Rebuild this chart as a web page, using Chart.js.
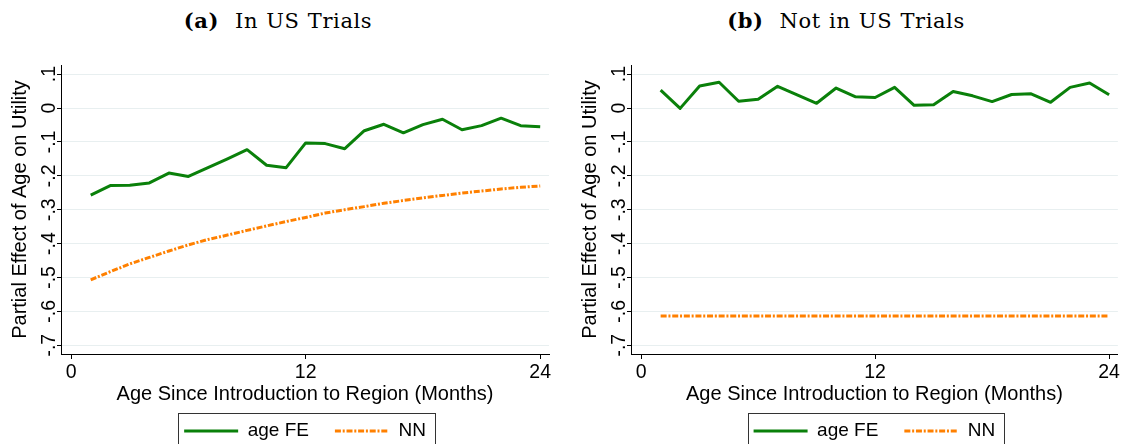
<!DOCTYPE html>
<html><head><meta charset="utf-8">
<script src="https://cdn.jsdelivr.net/npm/chart.js@4/dist/chart.umd.min.js"></script>
<style>
html,body{margin:0;padding:0;background:#fff;overflow:hidden;width:1122px;height:444px;}
.panel{position:absolute;top:0;}
.title{position:absolute;top:9px;width:400px;text-align:center;font-family:"DejaVu Serif",serif;font-size:21px;line-height:24px;white-space:nowrap;color:#000;letter-spacing:0.6px;word-spacing:1px;}
.title b{margin-right:16px;}
</style></head>
<body>
<div class="title" style="left:78px"><b>(a)</b>In US Trials</div>
<div class="title" style="left:646px"><b>(b)</b>Not in US Trials</div>
<div class="panel" style="left:0px"><canvas id="c1" width="556" height="444"></canvas></div>
<div class="panel" style="left:570px"><canvas id="c2" width="552" height="444"></canvas></div>
<script>
const months = [1,2,3,4,5,6,7,8,9,10,11,12,13,14,15,16,17,18,19,20,21,22,23,24];
const seriesNames = ['age FE', 'NN'];
const xTickValues = [0, 12, 24];
const yTickValues = [0.1, 0, -0.1, -0.2, -0.3, -0.4, -0.5, -0.6, -0.7];
const ageFE_US = [-0.257,-0.229,-0.228,-0.221,-0.192,-0.202,-0.176,-0.150,-0.123,-0.169,-0.176,-0.103,-0.105,-0.120,-0.067,-0.048,-0.073,-0.049,-0.033,-0.064,-0.052,-0.030,-0.052,-0.055];
const nn_US = [-0.507,-0.483,-0.460,-0.441,-0.422,-0.404,-0.388,-0.375,-0.361,-0.348,-0.335,-0.323,-0.310,-0.300,-0.291,-0.281,-0.273,-0.265,-0.258,-0.251,-0.245,-0.239,-0.234,-0.230];
const ageFE_nonUS = [0.053,-0.001,0.065,0.076,0.020,0.026,0.064,0.039,0.014,0.059,0.033,0.031,0.061,0.008,0.010,0.049,0.036,0.019,0.040,0.042,0.017,0.061,0.074,0.039];
const nn_nonUS = [-0.614,-0.614,-0.614,-0.614,-0.614,-0.614,-0.614,-0.614,-0.614,-0.614,-0.614,-0.614,-0.614,-0.614,-0.614,-0.614,-0.614,-0.614,-0.614,-0.614,-0.614,-0.614,-0.614,-0.614];
const yTitle = 'Partial Effect of Age on Utility';
const xTitle = 'Age Since Introduction to Region (Months)';

Chart.defaults.font.family = "'Liberation Sans', Arial, sans-serif";
Chart.defaults.color = '#000';

const GREEN = '#0a800a';
const ORANGE = '#ff8000';

function pts(vals){ return months.map((m,i)=>({x:m, y:vals[i]})); }

const legendBoxPlugin = {
  id: 'legendBox',
  afterDraw(chart){
    const lg = chart.legend;
    if (!lg || !lg.legendHitBoxes || !lg.legendHitBoxes.length) return;
    const hb = lg.legendHitBoxes;
    const l = Math.round(hb[0].left - 6);
    const last = hb[hb.length-1];
    const r = Math.round(last.left + last.width + 9);
    const ctx = chart.ctx;
    ctx.save();
    ctx.strokeStyle = '#333';
    ctx.lineWidth = 1;
    ctx.strokeRect(l + 0.5, 413.5, r - l, 50);
    ctx.restore();
  }
};

function fmtY(v){
  if (Math.abs(v) < 1e-9) return '0';
  return (Math.round(v*10)/10).toFixed(1).replace('0.', '.');
}

function makeChart(id, feVals, nnVals, rightPad){
  return new Chart(document.getElementById(id), {
    type: 'line',
    data: {
      datasets: [
        {label: seriesNames[0], data: pts(feVals), borderColor: GREEN, backgroundColor: GREEN, borderWidth: 3, pointRadius: 0, tension: 0, fill: false, borderJoinStyle: 'round'},
        {label: seriesNames[1], data: pts(nnVals), borderColor: ORANGE, backgroundColor: ORANGE, borderWidth: 3, borderDash: [6,1.8,2,1.8], pointRadius: 0, tension: 0, fill: false}
      ]
    },
    options: {
      responsive: false,
      animation: false,
      devicePixelRatio: 1,
      events: [],
      layout: {padding: {top: 65, left: 0, right: rightPad, bottom: -6.5}},
      plugins: {
        title: {display: false},
        tooltip: {enabled: false},
        legend: {
          display: true,
          position: 'bottom',
          fullSize: false,
          labels: {
            usePointStyle: true,
            pointStyle: 'line',
            pointStyleWidth: 54,
            padding: 26,
            color: '#000',
            font: {size: 19},
            generateLabels: (chart) => chart.data.datasets.map((ds, i) => ({
              text: ds.label, fillStyle: ds.borderColor, strokeStyle: ds.borderColor,
              lineWidth: ds.borderWidth, lineDash: ds.borderDash || [], lineCap: 'butt',
              pointStyle: 'line', hidden: false, datasetIndex: i, fontColor: '#000'
            }))
          }
        }
      },
      scales: {
        x: {
          type: 'linear',
          min: -0.52, max: 24.45,
          afterFit: (s) => { s.height = 41.5; },
          afterBuildTicks: (s) => { s.ticks = xTickValues.map(v => ({value: v})); },
          ticks: {stepSize: 12, includeBounds: false, maxRotation: 0, autoSkip: false, padding: 2, font: {size: 19.5}, color: '#000', callback: (v) => String(v)},
          grid: {drawOnChartArea: false, tickLength: 5, tickColor: '#000', tickWidth: 1},
          border: {color: '#000', width: 1},
          title: {display: true, text: xTitle, color: '#000', font: {size: 20}, padding: {top: 0, bottom: -11}}
        },
        y: {
          type: 'linear',
          min: -0.726, max: 0.127,
          afterFit: (s) => { s.width = 61; },
          afterBuildTicks: (s) => { s.ticks = yTickValues.map(v => ({value: v})); },
          ticks: {stepSize: 0.1, includeBounds: false, minRotation: 90, maxRotation: 90, crossAlign: 'center', padding: -4, font: {size: 19.5}, color: '#000', callback: (v) => fmtY(v)},
          grid: {color: '#e8eff0', lineWidth: 1, tickLength: 4, tickColor: '#000', tickWidth: 1},
          border: {color: '#000', width: 1},
          title: {display: true, text: yTitle, color: '#000', font: {size: 20}, padding: {top: 8, bottom: 0}}
        }
      }
    },
    plugins: [legendBoxPlugin]
  });
}

makeChart('c1', ageFE_US, nn_US, 7);
makeChart('c2', ageFE_nonUS, nn_nonUS, 3);
</script>
</body></html>
